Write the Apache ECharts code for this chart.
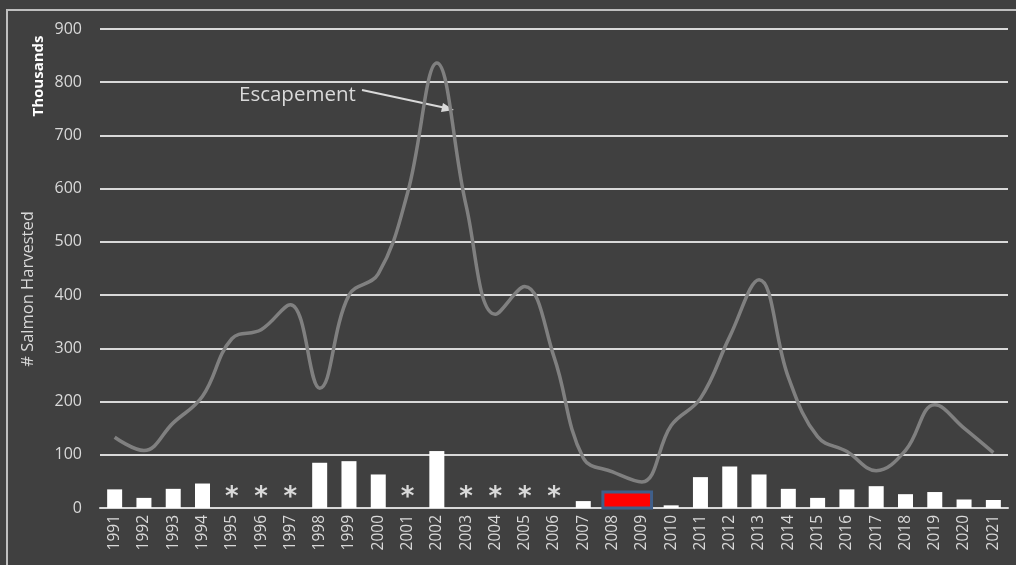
<!DOCTYPE html>
<html><head><meta charset="utf-8">
<script src="https://cdn.jsdelivr.net/npm/echarts@6/dist/echarts.min.js"></script>
<style>html,body{margin:0;padding:0;background:#404040;}#c{width:1016px;height:565px;}</style>
</head><body><div id="c"></div>
<script>
const years = ['1991','1992','1993','1994','1995','1996','1997','1998','1999','2000','2001','2002','2003','2004','2005','2006','2007','2008','2009','2010','2011','2012','2013','2014','2015','2016','2017','2018','2019','2020','2021'];
const harvest = [35,19,36,46,null,null,null,85,88,63,null,107,null,null,null,null,13,null,null,5,58,78,63,36,19,35,41,26,30,16,15];
const escapement = [133,108,160,210,318,335,382,225,400,440,592,836,568,364,416,284,94,68,49,155,206,322,429,246,134,106,70,108,194,150,104];
const noDataYears = ['1995','1996','1997','2001','2003','2004','2005','2006'];
const highlightStart = ['2008'];
const highlightEnd = ['2009'];
const highlightValue = [30];
const yTicks = [0,100,200,300,400,500,600,700,800,900];

const chart = echarts.init(document.getElementById('c'));
const txt = '#d9d9d9';
const spanData = highlightStart.map((s, i) => [years.indexOf(s), years.indexOf(highlightEnd[i]), highlightValue[i]]);
chart.setOption({
  backgroundColor: '#404040',
  animation: false,
  grid: {left: 100, right: 8, top: 29, bottom: 57, containLabel: false},
  xAxis: {
    type: 'category', data: years,
    axisLine: {show: true, lineStyle: {color: '#d9d9d9', width: 2}},
    axisTick: {show: false},
    axisLabel: {rotate: 90, color: txt, fontSize: 15.5, fontFamily: 'Open Sans', margin: 7, interval: 0}
  },
  yAxis: {
    type: 'value', min: yTicks[0], max: yTicks[yTicks.length - 1], interval: 100,
    axisLine: {show: false}, axisTick: {show: false},
    axisLabel: {color: txt, fontSize: 16, fontFamily: 'Open Sans', margin: 18},
    splitLine: {lineStyle: {color: '#d9d9d9', width: 2}}
  },
  graphic: [
    {type: 'rect', shape: {x: 7, y: 10, width: 1030, height: 600}, style: {fill: 'none', stroke: '#bfbfbf', lineWidth: 2}, silent: true},
    {type: 'text', x: 39, y: 76, rotation: Math.PI/2, style: {text: 'Thousands', fill: '#ffffff', font: 'bold 15px "Open Sans"', textAlign: 'center', textVerticalAlign: 'middle'}},
    {type: 'text', x: 28, y: 289, rotation: Math.PI/2, style: {text: '# Salmon Harvested', fill: txt, font: '16.5px "Open Sans"', textAlign: 'center', textVerticalAlign: 'middle'}},
    {type: 'text', x: 239, y: 95, style: {text: 'Escapement', fill: txt, font: '20.5px "Open Sans"', textVerticalAlign: 'middle'}},
    {type: 'line', shape: {x1: 362, y1: 90, x2: 446, y2: 108}, style: {stroke: txt, lineWidth: 2}},
    {type: 'polygon', shape: {points: [[454,110],[443,103],[441,112]]}, style: {fill: txt}}
  ],
  series: [
    {
      type: 'bar', data: harvest, barWidth: 15,
      itemStyle: {color: '#ffffff'}, z: 3
    },
    {
      type: 'custom', data: spanData, z: 4,
      renderItem: function (params, api) {
        const p0 = api.coord([api.value(0), 0]);
        const p1 = api.coord([api.value(1), api.value(2)]);
        const band = api.size([1, 0])[0];
        const ext = band * 0.33;
        return {type: 'rect', shape: {x: p0[0] - ext, y: p1[1], width: p1[0] - p0[0] + 2 * ext, height: p0[1] - p1[1]},
          style: {fill: '#ff0000', stroke: '#3f5f8a', lineWidth: 3}};
      },
      encode: {x: 0, y: 2}
    },
    {
      type: 'scatter', data: noDataYears.map(y => [y, 0]), symbolSize: 0,
      label: {show: true, formatter: '*', position: 'top', distance: -3, color: '#ffffff', fontSize: 26, fontWeight: 'bold', fontFamily: 'DejaVu Sans'}, z: 5
    },
    {
      type: 'line', data: escapement, smooth: 0.4, symbol: 'none',
      lineStyle: {color: '#808080', width: 3.5}, z: 2
    }
  ]
});
</script></body></html>
